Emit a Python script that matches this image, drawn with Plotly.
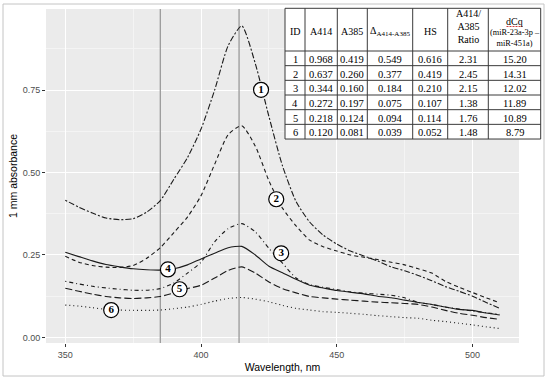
import plotly.graph_objects as go

# ---------------- data ----------------
wavelength = [350, 355, 360, 365, 370, 375, 380, 385, 390, 395, 400, 405, 410, 415, 420, 425,
              430, 435, 440, 445, 450, 455, 460, 465, 470, 475, 480, 485, 490, 495, 500, 505, 510]

curve1 = [0.416, 0.395, 0.377, 0.362, 0.357, 0.360, 0.380, 0.415, 0.480, 0.545, 0.632, 0.750, 0.885,
          0.945, 0.830, 0.670, 0.520, 0.412, 0.350, 0.310, 0.283, 0.262, 0.247, 0.232, 0.214, 0.202,
          0.188, 0.172, 0.154, 0.140, 0.125, 0.106, 0.088]
curve2 = [0.246, 0.228, 0.218, 0.213, 0.212, 0.218, 0.240, 0.272, 0.318, 0.365, 0.430, 0.525, 0.615,
          0.642, 0.580, 0.475, 0.392, 0.338, 0.295, 0.275, 0.262, 0.250, 0.243, 0.236, 0.228, 0.220,
          0.208, 0.195, 0.170, 0.152, 0.136, 0.120, 0.105]
curve3 = [0.170, 0.162, 0.155, 0.150, 0.146, 0.143, 0.143, 0.148, 0.165, 0.195, 0.228, 0.290, 0.330,
          0.345, 0.320, 0.270, 0.225, 0.180, 0.160, 0.152, 0.145, 0.138, 0.134, 0.131, 0.128, 0.120,
          0.106, 0.100, 0.092, 0.086, 0.080, 0.075, 0.070]
curve4 = [0.258, 0.245, 0.232, 0.221, 0.214, 0.208, 0.205, 0.204, 0.208, 0.220, 0.238, 0.255, 0.272,
          0.276, 0.250, 0.216, 0.196, 0.176, 0.158, 0.150, 0.142, 0.137, 0.132, 0.125, 0.120, 0.113,
          0.106, 0.100, 0.092, 0.085, 0.082, 0.074, 0.068]
curve5 = [0.149, 0.140, 0.131, 0.124, 0.120, 0.118, 0.120, 0.124, 0.135, 0.148, 0.158, 0.180, 0.203,
          0.214, 0.195, 0.168, 0.148, 0.135, 0.124, 0.120, 0.116, 0.113, 0.110, 0.107, 0.105, 0.103,
          0.100, 0.092, 0.082, 0.073, 0.067, 0.060, 0.055]
curve6 = [0.098, 0.095, 0.090, 0.085, 0.083, 0.082, 0.082, 0.083, 0.087, 0.092, 0.100, 0.110, 0.118,
          0.121, 0.116, 0.108, 0.097, 0.088, 0.083, 0.078, 0.076, 0.073, 0.070, 0.066, 0.063, 0.060,
          0.058, 0.052, 0.048, 0.043, 0.038, 0.032, 0.027]

curves = [curve1, curve2, curve3, curve4, curve5, curve6]
curve_ids = ["1", "2", "3", "4", "5", "6"]

label_x = [422.1, 427.7, 429.5, 387.8, 392.1, 366.9]
label_y = [0.751, 0.419, 0.255, 0.206, 0.146, 0.083]

marker_lines = [385, 414]

x_ticks = [350, 400, 450, 500]
y_ticks = [0.0, 0.25, 0.50, 0.75]
y_ticklabels = ["0.00", "0.25", "0.50", "0.75"]

# table data
tbl_id = ["1", "2", "3", "4", "5", "6"]
tbl_a414 = ["0.968", "0.637", "0.344", "0.272", "0.218", "0.120"]
tbl_a385 = ["0.419", "0.260", "0.160", "0.197", "0.124", "0.081"]
tbl_delta = ["0.549", "0.377", "0.184", "0.075", "0.094", "0.039"]
tbl_hs = ["0.616", "0.419", "0.210", "0.107", "0.114", "0.052"]
tbl_ratio = ["2.31", "2.45", "2.15", "1.38", "1.76", "1.48"]
tbl_dcq = ["15.20", "14.31", "12.02", "11.89", "10.89", "8.79"]
tbl_columns = [tbl_id, tbl_a414, tbl_a385, tbl_delta, tbl_hs, tbl_ratio, tbl_dcq]
tbl_headers = ["ID", "A414", "A385", "Δ<sub>A414-A385</sub>", "HS", "A414/<br>A385<br>Ratio", "dCq"]
tbl_dcq_sub = "(miR-23a-3p –<br>miR-451a)"

# ---------------- layout geometry (pixels) ----------------
W, H = 550, 381
ML, MR, MT, MB = 46, 5, 4, 38
PW, PH = W - ML - MR, H - MT - MB


def px(xp):
    return (xp - ML) / PW


def py(yp):
    return (H - MB - yp) / PH


col_edges = [285, 305, 337.3, 367.3, 412.7, 447.7, 488.3, 540.7]
row_top, header_bottom, row_h = 8.3, 51.0, 14.67

# ---------------- styles ----------------
dashes = ["2px,2px,6px,2px", "4px,3px", "1px,3px,4px,3px", "solid", "7px,3px", "1px,3px"]
line_color = "#1a1a1a"

fig = go.Figure()

for xv in marker_lines:
    fig.add_trace(go.Scatter(x=[xv, xv], y=[-0.017, 0.996], mode="lines",
                             line=dict(color="#9a9a9a", width=1.3),
                             showlegend=False, hoverinfo="skip"))

for y, d, cid in zip(curves, dashes, curve_ids):
    fig.add_trace(go.Scatter(x=wavelength, y=y, mode="lines", name=cid,
                             line=dict(color=line_color, width=1.1, dash=d, shape="spline", smoothing=0.6),
                             showlegend=False, hoverinfo="skip"))

fig.add_trace(go.Scatter(x=label_x, y=label_y, mode="markers+text", text=["<b>%s</b>" % c for c in curve_ids],
                         textposition="middle center",
                         textfont=dict(family="Liberation Serif", size=11, color="black"),
                         marker=dict(size=15, color="white", line=dict(color="black", width=1.2)),
                         showlegend=False, hoverinfo="skip"))

# ---------------- table ----------------
n_rows = len(tbl_id)
table_bottom = header_bottom + n_rows * row_h
fig.add_shape(type="rect", xref="paper", yref="paper",
              x0=px(col_edges[0]), x1=px(col_edges[-1]), y0=py(table_bottom), y1=py(row_top),
              fillcolor="white", line=dict(color="#3a3a3a", width=1), layer="above")
for xe in col_edges[1:-1]:
    fig.add_shape(type="line", xref="paper", yref="paper", x0=px(xe), x1=px(xe),
                  y0=py(table_bottom), y1=py(row_top), line=dict(color="#3a3a3a", width=1), layer="above")
for i in range(n_rows):
    ye = header_bottom + i * row_h
    fig.add_shape(type="line", xref="paper", yref="paper", x0=px(col_edges[0]), x1=px(col_edges[-1]),
                  y0=py(ye), y1=py(ye), line=dict(color="#3a3a3a", width=1), layer="above")

serif = "Liberation Serif"
for j, head in enumerate(tbl_headers):
    xc = (col_edges[j] + col_edges[j + 1]) / 2
    if j == 6:
        yc = 21.5
    elif j == 5:
        yc = 26.5
    else:
        yc = 31.0
    fig.add_annotation(xref="paper", yref="paper", x=px(xc), y=py(yc), text=head, showarrow=False,
                       xanchor="center", yanchor="middle",
                       font=dict(family=serif, size=10, color="black"))
    for i, val in enumerate(tbl_columns[j]):
        ycell = header_bottom + (i + 0.5) * row_h + 1.2
        fig.add_annotation(xref="paper", yref="paper", x=px(xc), y=py(ycell), text=val, showarrow=False,
                           xanchor="center", yanchor="middle",
                           font=dict(family=serif, size=10.5, color="black"))

xc_dcq = (col_edges[6] + col_edges[7]) / 2
fig.add_annotation(xref="paper", yref="paper", x=px(xc_dcq), y=py(38.3), text=tbl_dcq_sub, showarrow=False,
                   xanchor="center", yanchor="middle", font=dict(family=serif, size=8.3, color="black"))
# spell-check style underline under dCq
fig.add_shape(type="line", xref="paper", yref="paper", x0=px(xc_dcq - 8), x1=px(xc_dcq + 8),
              y0=py(26.5), y1=py(26.5), line=dict(color="#d04040", width=1, dash="2px,1px"), layer="above")

# outer frame
fig.add_shape(type="rect", xref="paper", yref="paper",
              x0=px(3), x1=px(544), y0=py(376), y1=py(4),
              line=dict(color="#c4c4c4", width=1), fillcolor="rgba(0,0,0,0)", layer="below")

axis_font = dict(family="Liberation Sans", size=9, color="#4D4D4D")
title_font = dict(family="Liberation Sans", size=10.5, color="black")
fig.update_layout(
    width=W, height=H,
    margin=dict(l=ML, r=MR, t=MT, b=MB, autoexpand=False),
    paper_bgcolor="white", plot_bgcolor="#EBEBEB",
    xaxis=dict(domain=[0, px(519)], range=[342.9, 517.1], tickvals=x_ticks,
               ticks="outside", ticklen=3, tickcolor="#333333", tickwidth=1,
               tickfont=axis_font, showgrid=True, gridcolor="white", gridwidth=1.1,
               zeroline=False, showline=False,
               minor=dict(tickvals=[375, 425, 475], showgrid=True, gridcolor="#F4F4F4", gridwidth=0.5),
               title=dict(text="Wavelength, nm", font=title_font, standoff=4)),
    yaxis=dict(domain=[0, py(9)], range=[-0.017, 0.996], tickvals=y_ticks, ticktext=y_ticklabels,
               ticks="outside", ticklen=3, tickcolor="#333333", tickwidth=1,
               tickfont=axis_font, showgrid=True, gridcolor="white", gridwidth=1.1,
               zeroline=False, showline=False,
               minor=dict(tickvals=[0.125, 0.375, 0.625, 0.875], showgrid=True, gridcolor="#F4F4F4", gridwidth=0.5),
               title=dict(text="1 mm absorbance", font=title_font, standoff=2)),
)

fig.write_html("out.html", config={"displayModeBar": False},
               post_script="document.body.style.margin='0px';")
